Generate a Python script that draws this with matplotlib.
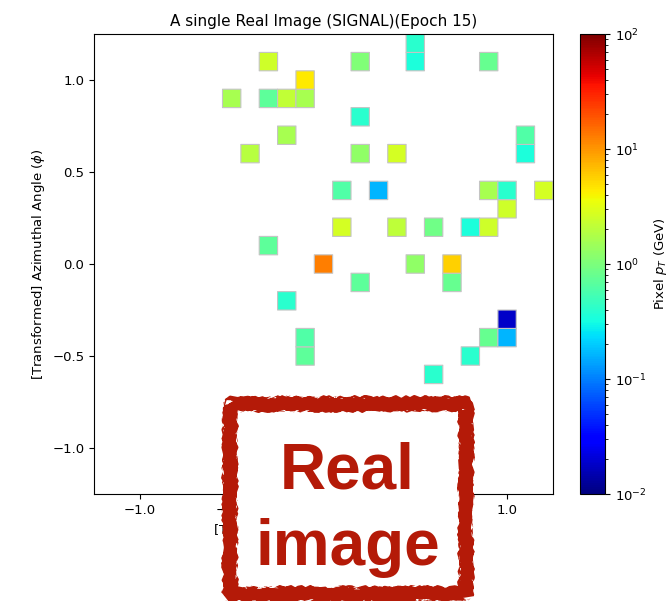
#!/usr/bin/env python3
"""
Image d'un jet réel (signal) en pixels eta/phi, avec tampon "Real image".
"""

import numpy as np
import matplotlib
matplotlib.use('Agg')
import matplotlib.pyplot as plt
from matplotlib.colors import LogNorm
from matplotlib.patches import Rectangle

# Grille 25x25 sur [-1.25, 1.25]
n_pix = 25
extent = 1.25

# Pixels allumés : colonne (eta, gauche->droite), ligne (phi, haut->bas), pT en GeV
pix_cols = [9, 11, 7, 9, 10, 11, 10, 8, 9, 12,
            17, 17, 14, 21, 14, 23, 23, 14, 16, 13,
            15, 21, 22, 24, 22, 13, 16, 18, 20, 21,
            17, 19, 10, 11, 11, 19, 14, 22, 21, 22,
            20, 18]
pix_rows = [1, 2, 3, 3, 3, 3, 5, 6, 11, 12,
            0, 1, 1, 1, 4, 5, 6, 6, 6, 8,
            8, 8, 8, 8, 9, 10, 10, 10, 10, 10,
            12, 12, 14, 16, 17, 13, 13, 15, 16, 16,
            17, 18]
pix_pt = [2.5, 4.5, 1.6, 0.72, 2.15, 1.6, 1.6, 1.95, 0.72, 12.6,
          0.4, 0.35, 1.05, 0.79, 0.4, 0.61, 0.35, 1.25, 2.7, 0.61,
          0.16, 1.63, 0.4, 2.7, 2.47, 2.7, 2.07, 0.88, 0.35, 2.47,
          1.25, 5.7, 0.4, 0.61, 0.72, 0.79, 0.72, 0.018, 0.79, 0.16,
          0.4, 0.4]

title = 'A single Real Image (SIGNAL)(Epoch 15)'
stamp_color = '#b41a08'


def main():
    img = np.zeros((n_pix, n_pix))
    for c, r, v in zip(pix_cols, pix_rows, pix_pt):
        img[n_pix - 1 - r, c] = v
    img = np.ma.masked_equal(img, 0)

    edges = np.linspace(-extent, extent, n_pix + 1)

    fig = plt.figure(figsize=(6.68, 6.01), dpi=100)
    ax = fig.add_axes([0.1407, 0.178, 0.6871, 0.7654])
    cax = fig.add_axes([0.8683, 0.178, 0.0374, 0.7654])

    mesh = ax.pcolor(edges, edges, img, cmap='jet', norm=LogNorm(1e-2, 1e2),
                     edgecolors='#c4c4c4', linewidths=0.8)
    ax.set_xlim(-extent, extent)
    ax.set_ylim(-extent, extent)
    ax.set_xticks([-1.0, -0.5, 0.0, 0.5, 1.0])
    ax.set_yticks([-1.0, -0.5, 0.0, 0.5, 1.0])
    ax.tick_params(labelsize=9.5)
    ax.set_title(title, fontsize=11)
    ax.set_xlabel(r'[Transformed] Pseudorapidity ($\eta$)', fontsize=9.5)
    ax.set_ylabel(r'[Transformed] Azimuthal Angle ($\phi$)', fontsize=9.5)

    cb = fig.colorbar(mesh, cax=cax)
    cb.ax.tick_params(labelsize=9.5)
    cb.set_label(r'Pixel $p_T$ (GeV)', fontsize=9.5, labelpad=4)

    # Tampon "Real image" (cadre un peu irrégulier)
    frame = Rectangle((0.345, 0.0116), 0.352, 0.316, transform=fig.transFigure,
                      facecolor='white', edgecolor=stamp_color, linewidth=11.5,
                      joinstyle='bevel', zorder=10)
    frame.set_sketch_params(scale=1.0, length=2, randomness=4)
    fig.add_artist(frame)
    fig.text(0.520, 0.188, 'Real', fontsize=46, fontweight='bold',
             family='Liberation Sans', color=stamp_color,
             ha='center', va='baseline', zorder=11)
    fig.text(0.521, 0.060, 'image', fontsize=46, fontweight='bold',
             family='Liberation Sans', color=stamp_color,
             ha='center', va='baseline', zorder=11)

    fig.savefig('out.png', dpi=100)
    plt.close(fig)


if __name__ == '__main__':
    main()
